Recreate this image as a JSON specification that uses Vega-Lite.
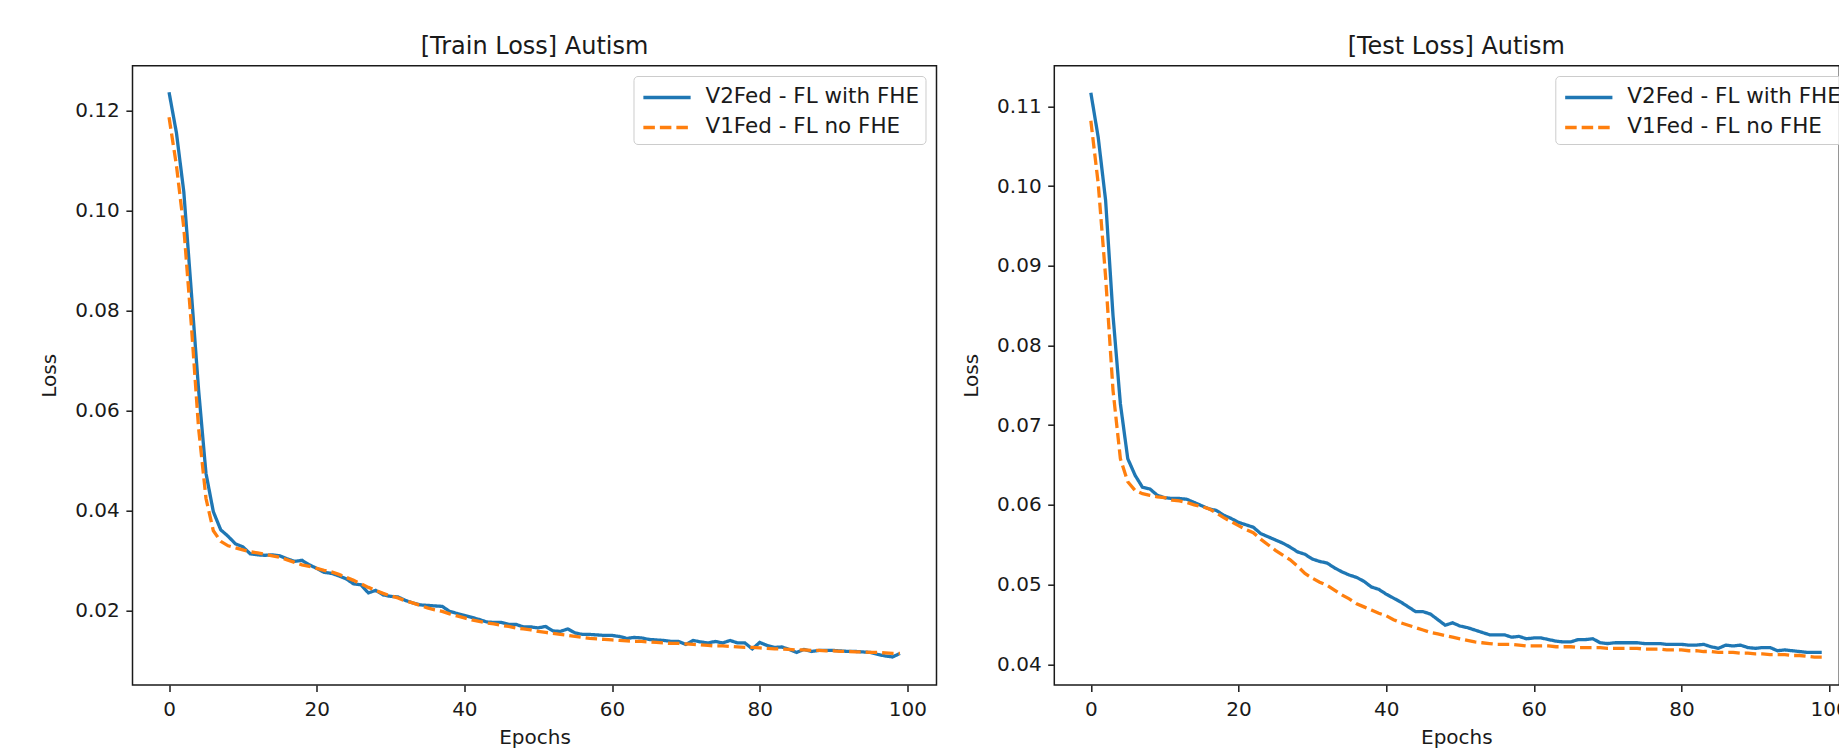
{
  "$schema": "https://vega.github.io/schema/vega-lite/v6.json",
  "autosize": {"type": "none"},
  "padding": {"left": 132.5, "top": 65.7, "right": 1706.5, "bottom": 689.3},
  "background": "white",
  "bounds": "flush",
  "spacing": 117.8,
  "datasets": {
    "train": [
      {"epoch":0,"V2Fed - FL with FHE":0.1236,"V1Fed - FL no FHE":0.1186},
      {"epoch":1,"V2Fed - FL with FHE":0.1155,"V1Fed - FL no FHE":0.1090},
      {"epoch":2,"V2Fed - FL with FHE":0.1037,"V1Fed - FL no FHE":0.0965},
      {"epoch":3,"V2Fed - FL with FHE":0.0841,"V1Fed - FL no FHE":0.0775},
      {"epoch":4,"V2Fed - FL with FHE":0.0642,"V1Fed - FL no FHE":0.0565},
      {"epoch":5,"V2Fed - FL with FHE":0.0475,"V1Fed - FL no FHE":0.0425},
      {"epoch":6,"V2Fed - FL with FHE":0.0398,"V1Fed - FL no FHE":0.0360},
      {"epoch":7,"V2Fed - FL with FHE":0.0362,"V1Fed - FL no FHE":0.0339},
      {"epoch":8,"V2Fed - FL with FHE":0.0349,"V1Fed - FL no FHE":0.0330},
      {"epoch":9,"V2Fed - FL with FHE":0.0334,"V1Fed - FL no FHE":0.0326},
      {"epoch":10,"V2Fed - FL with FHE":0.0328,"V1Fed - FL no FHE":0.0322},
      {"epoch":11,"V2Fed - FL with FHE":0.0314,"V1Fed - FL no FHE":0.0318},
      {"epoch":12,"V2Fed - FL with FHE":0.0312,"V1Fed - FL no FHE":0.0316},
      {"epoch":13,"V2Fed - FL with FHE":0.0311,"V1Fed - FL no FHE":0.0313},
      {"epoch":14,"V2Fed - FL with FHE":0.0312,"V1Fed - FL no FHE":0.0310},
      {"epoch":15,"V2Fed - FL with FHE":0.0310,"V1Fed - FL no FHE":0.0307},
      {"epoch":16,"V2Fed - FL with FHE":0.0304,"V1Fed - FL no FHE":0.0302},
      {"epoch":17,"V2Fed - FL with FHE":0.0299,"V1Fed - FL no FHE":0.0297},
      {"epoch":18,"V2Fed - FL with FHE":0.0301,"V1Fed - FL no FHE":0.0292},
      {"epoch":19,"V2Fed - FL with FHE":0.0292,"V1Fed - FL no FHE":0.0289},
      {"epoch":20,"V2Fed - FL with FHE":0.0285,"V1Fed - FL no FHE":0.0285},
      {"epoch":21,"V2Fed - FL with FHE":0.0277,"V1Fed - FL no FHE":0.0281},
      {"epoch":22,"V2Fed - FL with FHE":0.0275,"V1Fed - FL no FHE":0.0278},
      {"epoch":23,"V2Fed - FL with FHE":0.0270,"V1Fed - FL no FHE":0.0273},
      {"epoch":24,"V2Fed - FL with FHE":0.0264,"V1Fed - FL no FHE":0.0267},
      {"epoch":25,"V2Fed - FL with FHE":0.0254,"V1Fed - FL no FHE":0.0261},
      {"epoch":26,"V2Fed - FL with FHE":0.0252,"V1Fed - FL no FHE":0.0254},
      {"epoch":27,"V2Fed - FL with FHE":0.0236,"V1Fed - FL no FHE":0.0247},
      {"epoch":28,"V2Fed - FL with FHE":0.0241,"V1Fed - FL no FHE":0.0241},
      {"epoch":29,"V2Fed - FL with FHE":0.0232,"V1Fed - FL no FHE":0.0235},
      {"epoch":30,"V2Fed - FL with FHE":0.0229,"V1Fed - FL no FHE":0.0230},
      {"epoch":31,"V2Fed - FL with FHE":0.0228,"V1Fed - FL no FHE":0.0226},
      {"epoch":32,"V2Fed - FL with FHE":0.0221,"V1Fed - FL no FHE":0.0220},
      {"epoch":33,"V2Fed - FL with FHE":0.0216,"V1Fed - FL no FHE":0.0216},
      {"epoch":34,"V2Fed - FL with FHE":0.0212,"V1Fed - FL no FHE":0.0211},
      {"epoch":35,"V2Fed - FL with FHE":0.0211,"V1Fed - FL no FHE":0.0206},
      {"epoch":36,"V2Fed - FL with FHE":0.0210,"V1Fed - FL no FHE":0.0202},
      {"epoch":37,"V2Fed - FL with FHE":0.0209,"V1Fed - FL no FHE":0.0199},
      {"epoch":38,"V2Fed - FL with FHE":0.0199,"V1Fed - FL no FHE":0.0194},
      {"epoch":39,"V2Fed - FL with FHE":0.0195,"V1Fed - FL no FHE":0.0190},
      {"epoch":40,"V2Fed - FL with FHE":0.0191,"V1Fed - FL no FHE":0.0186},
      {"epoch":41,"V2Fed - FL with FHE":0.0187,"V1Fed - FL no FHE":0.0182},
      {"epoch":42,"V2Fed - FL with FHE":0.0183,"V1Fed - FL no FHE":0.0179},
      {"epoch":43,"V2Fed - FL with FHE":0.0178,"V1Fed - FL no FHE":0.0176},
      {"epoch":44,"V2Fed - FL with FHE":0.0177,"V1Fed - FL no FHE":0.0174},
      {"epoch":45,"V2Fed - FL with FHE":0.0177,"V1Fed - FL no FHE":0.0171},
      {"epoch":46,"V2Fed - FL with FHE":0.0173,"V1Fed - FL no FHE":0.0169},
      {"epoch":47,"V2Fed - FL with FHE":0.0173,"V1Fed - FL no FHE":0.0166},
      {"epoch":48,"V2Fed - FL with FHE":0.0168,"V1Fed - FL no FHE":0.0164},
      {"epoch":49,"V2Fed - FL with FHE":0.0168,"V1Fed - FL no FHE":0.0162},
      {"epoch":50,"V2Fed - FL with FHE":0.0166,"V1Fed - FL no FHE":0.0159},
      {"epoch":51,"V2Fed - FL with FHE":0.0169,"V1Fed - FL no FHE":0.0157},
      {"epoch":52,"V2Fed - FL with FHE":0.0160,"V1Fed - FL no FHE":0.0155},
      {"epoch":53,"V2Fed - FL with FHE":0.0159,"V1Fed - FL no FHE":0.0153},
      {"epoch":54,"V2Fed - FL with FHE":0.0164,"V1Fed - FL no FHE":0.0151},
      {"epoch":55,"V2Fed - FL with FHE":0.0156,"V1Fed - FL no FHE":0.0149},
      {"epoch":56,"V2Fed - FL with FHE":0.0153,"V1Fed - FL no FHE":0.0147},
      {"epoch":57,"V2Fed - FL with FHE":0.0153,"V1Fed - FL no FHE":0.0145},
      {"epoch":58,"V2Fed - FL with FHE":0.0152,"V1Fed - FL no FHE":0.0144},
      {"epoch":59,"V2Fed - FL with FHE":0.0151,"V1Fed - FL no FHE":0.0143},
      {"epoch":60,"V2Fed - FL with FHE":0.0151,"V1Fed - FL no FHE":0.0142},
      {"epoch":61,"V2Fed - FL with FHE":0.0149,"V1Fed - FL no FHE":0.0141},
      {"epoch":62,"V2Fed - FL with FHE":0.0145,"V1Fed - FL no FHE":0.0140},
      {"epoch":63,"V2Fed - FL with FHE":0.0147,"V1Fed - FL no FHE":0.0139},
      {"epoch":64,"V2Fed - FL with FHE":0.0146,"V1Fed - FL no FHE":0.0139},
      {"epoch":65,"V2Fed - FL with FHE":0.0143,"V1Fed - FL no FHE":0.0138},
      {"epoch":66,"V2Fed - FL with FHE":0.0142,"V1Fed - FL no FHE":0.0137},
      {"epoch":67,"V2Fed - FL with FHE":0.0141,"V1Fed - FL no FHE":0.0136},
      {"epoch":68,"V2Fed - FL with FHE":0.0139,"V1Fed - FL no FHE":0.0135},
      {"epoch":69,"V2Fed - FL with FHE":0.0139,"V1Fed - FL no FHE":0.0135},
      {"epoch":70,"V2Fed - FL with FHE":0.0133,"V1Fed - FL no FHE":0.0134},
      {"epoch":71,"V2Fed - FL with FHE":0.0141,"V1Fed - FL no FHE":0.0133},
      {"epoch":72,"V2Fed - FL with FHE":0.0138,"V1Fed - FL no FHE":0.0132},
      {"epoch":73,"V2Fed - FL with FHE":0.0136,"V1Fed - FL no FHE":0.0131},
      {"epoch":74,"V2Fed - FL with FHE":0.0139,"V1Fed - FL no FHE":0.0130},
      {"epoch":75,"V2Fed - FL with FHE":0.0136,"V1Fed - FL no FHE":0.0130},
      {"epoch":76,"V2Fed - FL with FHE":0.0141,"V1Fed - FL no FHE":0.0129},
      {"epoch":77,"V2Fed - FL with FHE":0.0136,"V1Fed - FL no FHE":0.0128},
      {"epoch":78,"V2Fed - FL with FHE":0.0136,"V1Fed - FL no FHE":0.0127},
      {"epoch":79,"V2Fed - FL with FHE":0.0124,"V1Fed - FL no FHE":0.0127},
      {"epoch":80,"V2Fed - FL with FHE":0.0137,"V1Fed - FL no FHE":0.0126},
      {"epoch":81,"V2Fed - FL with FHE":0.0131,"V1Fed - FL no FHE":0.0125},
      {"epoch":82,"V2Fed - FL with FHE":0.0127,"V1Fed - FL no FHE":0.0124},
      {"epoch":83,"V2Fed - FL with FHE":0.0128,"V1Fed - FL no FHE":0.0124},
      {"epoch":84,"V2Fed - FL with FHE":0.0123,"V1Fed - FL no FHE":0.0123},
      {"epoch":85,"V2Fed - FL with FHE":0.0117,"V1Fed - FL no FHE":0.0122},
      {"epoch":86,"V2Fed - FL with FHE":0.0123,"V1Fed - FL no FHE":0.0122},
      {"epoch":87,"V2Fed - FL with FHE":0.0119,"V1Fed - FL no FHE":0.0121},
      {"epoch":88,"V2Fed - FL with FHE":0.0121,"V1Fed - FL no FHE":0.0121},
      {"epoch":89,"V2Fed - FL with FHE":0.0121,"V1Fed - FL no FHE":0.0120},
      {"epoch":90,"V2Fed - FL with FHE":0.0121,"V1Fed - FL no FHE":0.0120},
      {"epoch":91,"V2Fed - FL with FHE":0.0120,"V1Fed - FL no FHE":0.0119},
      {"epoch":92,"V2Fed - FL with FHE":0.0119,"V1Fed - FL no FHE":0.0119},
      {"epoch":93,"V2Fed - FL with FHE":0.0119,"V1Fed - FL no FHE":0.0118},
      {"epoch":94,"V2Fed - FL with FHE":0.0118,"V1Fed - FL no FHE":0.0118},
      {"epoch":95,"V2Fed - FL with FHE":0.0117,"V1Fed - FL no FHE":0.0117},
      {"epoch":96,"V2Fed - FL with FHE":0.0113,"V1Fed - FL no FHE":0.0117},
      {"epoch":97,"V2Fed - FL with FHE":0.0110,"V1Fed - FL no FHE":0.0116},
      {"epoch":98,"V2Fed - FL with FHE":0.0108,"V1Fed - FL no FHE":0.0115},
      {"epoch":99,"V2Fed - FL with FHE":0.0115,"V1Fed - FL no FHE":0.0115}
    ],
    "test": [
      {"epoch":0,"V2Fed - FL with FHE":0.1117,"V1Fed - FL no FHE":0.1082},
      {"epoch":1,"V2Fed - FL with FHE":0.1061,"V1Fed - FL no FHE":0.1003},
      {"epoch":2,"V2Fed - FL with FHE":0.0982,"V1Fed - FL no FHE":0.0886},
      {"epoch":3,"V2Fed - FL with FHE":0.0838,"V1Fed - FL no FHE":0.0744},
      {"epoch":4,"V2Fed - FL with FHE":0.0727,"V1Fed - FL no FHE":0.0658},
      {"epoch":5,"V2Fed - FL with FHE":0.0658,"V1Fed - FL no FHE":0.0629},
      {"epoch":6,"V2Fed - FL with FHE":0.0637,"V1Fed - FL no FHE":0.0618},
      {"epoch":7,"V2Fed - FL with FHE":0.0622,"V1Fed - FL no FHE":0.0614},
      {"epoch":8,"V2Fed - FL with FHE":0.0620,"V1Fed - FL no FHE":0.0612},
      {"epoch":9,"V2Fed - FL with FHE":0.0612,"V1Fed - FL no FHE":0.0610},
      {"epoch":10,"V2Fed - FL with FHE":0.0609,"V1Fed - FL no FHE":0.0609},
      {"epoch":11,"V2Fed - FL with FHE":0.0608,"V1Fed - FL no FHE":0.0606},
      {"epoch":12,"V2Fed - FL with FHE":0.0608,"V1Fed - FL no FHE":0.0605},
      {"epoch":13,"V2Fed - FL with FHE":0.0607,"V1Fed - FL no FHE":0.0603},
      {"epoch":14,"V2Fed - FL with FHE":0.0603,"V1Fed - FL no FHE":0.0600},
      {"epoch":15,"V2Fed - FL with FHE":0.0599,"V1Fed - FL no FHE":0.0598},
      {"epoch":16,"V2Fed - FL with FHE":0.0595,"V1Fed - FL no FHE":0.0595},
      {"epoch":17,"V2Fed - FL with FHE":0.0593,"V1Fed - FL no FHE":0.0590},
      {"epoch":18,"V2Fed - FL with FHE":0.0587,"V1Fed - FL no FHE":0.0584},
      {"epoch":19,"V2Fed - FL with FHE":0.0583,"V1Fed - FL no FHE":0.0579},
      {"epoch":20,"V2Fed - FL with FHE":0.0578,"V1Fed - FL no FHE":0.0574},
      {"epoch":21,"V2Fed - FL with FHE":0.0575,"V1Fed - FL no FHE":0.0569},
      {"epoch":22,"V2Fed - FL with FHE":0.0572,"V1Fed - FL no FHE":0.0565},
      {"epoch":23,"V2Fed - FL with FHE":0.0564,"V1Fed - FL no FHE":0.0557},
      {"epoch":24,"V2Fed - FL with FHE":0.0560,"V1Fed - FL no FHE":0.0550},
      {"epoch":25,"V2Fed - FL with FHE":0.0556,"V1Fed - FL no FHE":0.0543},
      {"epoch":26,"V2Fed - FL with FHE":0.0552,"V1Fed - FL no FHE":0.0537},
      {"epoch":27,"V2Fed - FL with FHE":0.0547,"V1Fed - FL no FHE":0.0531},
      {"epoch":28,"V2Fed - FL with FHE":0.0541,"V1Fed - FL no FHE":0.0523},
      {"epoch":29,"V2Fed - FL with FHE":0.0538,"V1Fed - FL no FHE":0.0514},
      {"epoch":30,"V2Fed - FL with FHE":0.0532,"V1Fed - FL no FHE":0.0508},
      {"epoch":31,"V2Fed - FL with FHE":0.0529,"V1Fed - FL no FHE":0.0503},
      {"epoch":32,"V2Fed - FL with FHE":0.0527,"V1Fed - FL no FHE":0.0499},
      {"epoch":33,"V2Fed - FL with FHE":0.0521,"V1Fed - FL no FHE":0.0493},
      {"epoch":34,"V2Fed - FL with FHE":0.0516,"V1Fed - FL no FHE":0.0487},
      {"epoch":35,"V2Fed - FL with FHE":0.0512,"V1Fed - FL no FHE":0.0482},
      {"epoch":36,"V2Fed - FL with FHE":0.0509,"V1Fed - FL no FHE":0.0476},
      {"epoch":37,"V2Fed - FL with FHE":0.0504,"V1Fed - FL no FHE":0.0472},
      {"epoch":38,"V2Fed - FL with FHE":0.0497,"V1Fed - FL no FHE":0.0468},
      {"epoch":39,"V2Fed - FL with FHE":0.0494,"V1Fed - FL no FHE":0.0464},
      {"epoch":40,"V2Fed - FL with FHE":0.0488,"V1Fed - FL no FHE":0.0461},
      {"epoch":41,"V2Fed - FL with FHE":0.0483,"V1Fed - FL no FHE":0.0456},
      {"epoch":42,"V2Fed - FL with FHE":0.0478,"V1Fed - FL no FHE":0.0452},
      {"epoch":43,"V2Fed - FL with FHE":0.0472,"V1Fed - FL no FHE":0.0449},
      {"epoch":44,"V2Fed - FL with FHE":0.0466,"V1Fed - FL no FHE":0.0446},
      {"epoch":45,"V2Fed - FL with FHE":0.0466,"V1Fed - FL no FHE":0.0443},
      {"epoch":46,"V2Fed - FL with FHE":0.0463,"V1Fed - FL no FHE":0.0440},
      {"epoch":47,"V2Fed - FL with FHE":0.0456,"V1Fed - FL no FHE":0.0438},
      {"epoch":48,"V2Fed - FL with FHE":0.0449,"V1Fed - FL no FHE":0.0436},
      {"epoch":49,"V2Fed - FL with FHE":0.0452,"V1Fed - FL no FHE":0.0434},
      {"epoch":50,"V2Fed - FL with FHE":0.0448,"V1Fed - FL no FHE":0.0432},
      {"epoch":51,"V2Fed - FL with FHE":0.0446,"V1Fed - FL no FHE":0.0430},
      {"epoch":52,"V2Fed - FL with FHE":0.0443,"V1Fed - FL no FHE":0.0428},
      {"epoch":53,"V2Fed - FL with FHE":0.0440,"V1Fed - FL no FHE":0.0427},
      {"epoch":54,"V2Fed - FL with FHE":0.0437,"V1Fed - FL no FHE":0.0426},
      {"epoch":55,"V2Fed - FL with FHE":0.0437,"V1Fed - FL no FHE":0.0425},
      {"epoch":56,"V2Fed - FL with FHE":0.0437,"V1Fed - FL no FHE":0.0425},
      {"epoch":57,"V2Fed - FL with FHE":0.0434,"V1Fed - FL no FHE":0.0425},
      {"epoch":58,"V2Fed - FL with FHE":0.0435,"V1Fed - FL no FHE":0.0424},
      {"epoch":59,"V2Fed - FL with FHE":0.0432,"V1Fed - FL no FHE":0.0423},
      {"epoch":60,"V2Fed - FL with FHE":0.0433,"V1Fed - FL no FHE":0.0423},
      {"epoch":61,"V2Fed - FL with FHE":0.0433,"V1Fed - FL no FHE":0.0423},
      {"epoch":62,"V2Fed - FL with FHE":0.0431,"V1Fed - FL no FHE":0.0423},
      {"epoch":63,"V2Fed - FL with FHE":0.0429,"V1Fed - FL no FHE":0.0422},
      {"epoch":64,"V2Fed - FL with FHE":0.0428,"V1Fed - FL no FHE":0.0422},
      {"epoch":65,"V2Fed - FL with FHE":0.0428,"V1Fed - FL no FHE":0.0422},
      {"epoch":66,"V2Fed - FL with FHE":0.0431,"V1Fed - FL no FHE":0.0421},
      {"epoch":67,"V2Fed - FL with FHE":0.0431,"V1Fed - FL no FHE":0.0421},
      {"epoch":68,"V2Fed - FL with FHE":0.0432,"V1Fed - FL no FHE":0.0421},
      {"epoch":69,"V2Fed - FL with FHE":0.0427,"V1Fed - FL no FHE":0.0421},
      {"epoch":70,"V2Fed - FL with FHE":0.0426,"V1Fed - FL no FHE":0.0420},
      {"epoch":71,"V2Fed - FL with FHE":0.0427,"V1Fed - FL no FHE":0.0420},
      {"epoch":72,"V2Fed - FL with FHE":0.0427,"V1Fed - FL no FHE":0.0420},
      {"epoch":73,"V2Fed - FL with FHE":0.0427,"V1Fed - FL no FHE":0.0420},
      {"epoch":74,"V2Fed - FL with FHE":0.0427,"V1Fed - FL no FHE":0.0420},
      {"epoch":75,"V2Fed - FL with FHE":0.0426,"V1Fed - FL no FHE":0.0419},
      {"epoch":76,"V2Fed - FL with FHE":0.0426,"V1Fed - FL no FHE":0.0419},
      {"epoch":77,"V2Fed - FL with FHE":0.0426,"V1Fed - FL no FHE":0.0419},
      {"epoch":78,"V2Fed - FL with FHE":0.0425,"V1Fed - FL no FHE":0.0418},
      {"epoch":79,"V2Fed - FL with FHE":0.0425,"V1Fed - FL no FHE":0.0418},
      {"epoch":80,"V2Fed - FL with FHE":0.0425,"V1Fed - FL no FHE":0.0418},
      {"epoch":81,"V2Fed - FL with FHE":0.0424,"V1Fed - FL no FHE":0.0417},
      {"epoch":82,"V2Fed - FL with FHE":0.0424,"V1Fed - FL no FHE":0.0417},
      {"epoch":83,"V2Fed - FL with FHE":0.0425,"V1Fed - FL no FHE":0.0416},
      {"epoch":84,"V2Fed - FL with FHE":0.0422,"V1Fed - FL no FHE":0.0416},
      {"epoch":85,"V2Fed - FL with FHE":0.0420,"V1Fed - FL no FHE":0.0415},
      {"epoch":86,"V2Fed - FL with FHE":0.0424,"V1Fed - FL no FHE":0.0415},
      {"epoch":87,"V2Fed - FL with FHE":0.0423,"V1Fed - FL no FHE":0.0415},
      {"epoch":88,"V2Fed - FL with FHE":0.0424,"V1Fed - FL no FHE":0.0414},
      {"epoch":89,"V2Fed - FL with FHE":0.0421,"V1Fed - FL no FHE":0.0414},
      {"epoch":90,"V2Fed - FL with FHE":0.0420,"V1Fed - FL no FHE":0.0413},
      {"epoch":91,"V2Fed - FL with FHE":0.0421,"V1Fed - FL no FHE":0.0413},
      {"epoch":92,"V2Fed - FL with FHE":0.0421,"V1Fed - FL no FHE":0.0412},
      {"epoch":93,"V2Fed - FL with FHE":0.0417,"V1Fed - FL no FHE":0.0412},
      {"epoch":94,"V2Fed - FL with FHE":0.0418,"V1Fed - FL no FHE":0.0412},
      {"epoch":95,"V2Fed - FL with FHE":0.0417,"V1Fed - FL no FHE":0.0411},
      {"epoch":96,"V2Fed - FL with FHE":0.0416,"V1Fed - FL no FHE":0.0411},
      {"epoch":97,"V2Fed - FL with FHE":0.0415,"V1Fed - FL no FHE":0.0410},
      {"epoch":98,"V2Fed - FL with FHE":0.0415,"V1Fed - FL no FHE":0.0409},
      {"epoch":99,"V2Fed - FL with FHE":0.0415,"V1Fed - FL no FHE":0.0409}
    ]
  },
  "hconcat": [
    {
      "width": 804,
      "height": 619.3,
      "title": {"text": "[Train Loss] Autism"},
      "data": {"name": "train"},
      "transform": [{"fold": ["V2Fed - FL with FHE", "V1Fed - FL no FHE"], "as": ["model", "loss"]}],
      "mark": {"type": "line", "strokeWidth": 3.3, "clip": true},
      "encoding": {
        "x": {"field": "epoch", "type": "quantitative",
              "scale": {"domain": [-4.95, 103.95], "nice": false, "zero": false},
              "axis": {"title": "Epochs", "values": [0, 20, 40, 60, 80, 100]}},
        "y": {"field": "loss", "type": "quantitative",
              "scale": {"domain": [0.0052, 0.1289], "nice": false, "zero": false},
              "axis": {"title": "Loss", "values": [0.02, 0.04, 0.06, 0.08, 0.10, 0.12], "format": ".2f"}},
        "color": {"field": "model", "type": "nominal",
                  "scale": {"domain": ["V2Fed - FL with FHE", "V1Fed - FL no FHE"], "range": ["#1f77b4", "#ff7f0e"]},
                  "legend": {"title": null}},
        "strokeDash": {"field": "model", "type": "nominal",
                  "scale": {"domain": ["V2Fed - FL with FHE", "V1Fed - FL no FHE"], "range": [[1, 0], [11.5, 5]]},
                  "legend": {"title": null}}
      }
    },
    {
      "width": 785,
      "height": 619.3,
      "title": {"text": "[Test Loss] Autism", "dx": 9.5},
      "data": {"name": "test"},
      "transform": [{"fold": ["V2Fed - FL with FHE", "V1Fed - FL no FHE"], "as": ["model", "loss"]}],
      "mark": {"type": "line", "strokeWidth": 3.3, "clip": true},
      "encoding": {
        "x": {"field": "epoch", "type": "quantitative",
              "scale": {"domain": [-4.95, 101.38], "nice": false, "zero": false},
              "axis": {"title": "Epochs", "titleX": 402, "values": [0, 20, 40, 60, 80, 100]}},
        "y": {"field": "loss", "type": "quantitative",
              "scale": {"domain": [0.0374, 0.1151], "nice": false, "zero": false},
              "axis": {"title": "Loss", "values": [0.04, 0.05, 0.06, 0.07, 0.08, 0.09, 0.10, 0.11], "format": ".2f"}},
        "color": {"field": "model", "type": "nominal",
                  "scale": {"domain": ["V2Fed - FL with FHE", "V1Fed - FL no FHE"], "range": ["#1f77b4", "#ff7f0e"]},
                  "legend": {"title": null}},
        "strokeDash": {"field": "model", "type": "nominal",
                  "scale": {"domain": ["V2Fed - FL with FHE", "V1Fed - FL no FHE"], "range": [[1, 0], [11.5, 5]]},
                  "legend": {"title": null}}
      }
    }
  ],
  "resolve": {"scale": {"color": "independent", "strokeDash": "independent"}},
  "config": {
    "font": "DejaVu Sans",
    "view": {"stroke": "#1a1a1a", "strokeWidth": 1.5},
    "axis": {
      "grid": false, "domain": false,
      "ticks": true, "tickSize": 6.6, "tickWidth": 1.5, "tickColor": "#1a1a1a",
      "labelFontSize": 20, "labelColor": "#1a1a1a", "labelFont": "DejaVu Sans",
      "titleFontSize": 20, "titleFontWeight": "normal", "titleColor": "#1a1a1a", "titleFont": "DejaVu Sans"
    },
    "axisX": {"labelPadding": 8, "titlePadding": 8},
    "axisY": {"labelPadding": 6.6, "titlePadding": 15.5},
    "title": {"fontSize": 24, "fontWeight": "normal", "color": "#1a1a1a", "font": "DejaVu Sans", "offset": 7, "baseline": "alphabetic", "anchor": "middle"},
    "legend": {
      "orient": "none", "legendX": 501, "legendY": 10.3,
      "labelFontSize": 21.5, "labelColor": "#1a1a1a", "labelFont": "DejaVu Sans", "labelLimit": 500,
      "symbolType": "M-1.75,0H1.75", "symbolSize": 729, "symbolStrokeWidth": 3.3,
      "rowPadding": 4, "padding": 6,
      "strokeColor": "#cccccc", "fillColor": "rgba(255,255,255,0.8)", "cornerRadius": 4,
      "symbolOffset": 12, "labelOffset": 23
    }
  }
}
